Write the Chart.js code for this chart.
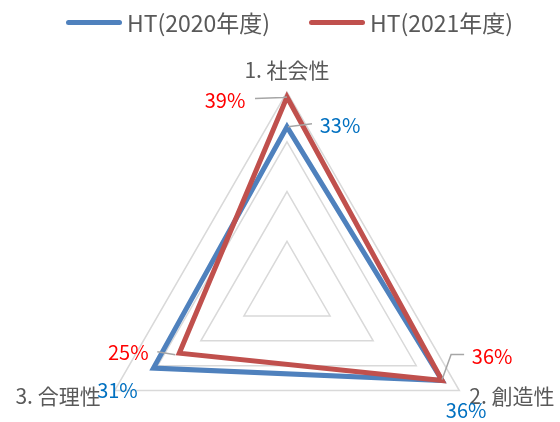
<!DOCTYPE html>
<html><head><meta charset="utf-8">
<script src="https://cdn.jsdelivr.net/npm/chart.js"></script>
<style>html,body{margin:0;padding:0;background:#fff;overflow:hidden}#wrap{width:560px;height:422px;position:relative}</style>
</head><body><div id="wrap"><canvas id="c" width="560" height="422"></canvas></div>
<script>
const categories = ['1. 社会性', '2. 創造性', '3. 合理性'];
const seriesNames = ['HT(2020年度)', 'HT(2021年度)'];
const values2020 = [33, 36, 31];
const values2021 = [39, 36, 25];
const tickValues = [0, 10, 20, 30, 40];

const FONT = '"Noto Sans CJK JP", "Noto Sans", sans-serif';
const seriesColors = ['#4f81bd', '#c0504d'];
const labelColors = ['#0070c0', '#ff0000'];

// label offsets and leader-line bends relative to each data point (style only)
const labelStyle = [
  [ {dx: 53, dy: -1, leader: [[25, -3], [1, 0]]},
    {dx: 24, dy: 30, leader: null},
    {dx: -36, dy: 22, leader: null} ],
  [ {dx: -62, dy: 3, leader: [[-32, 1.5], [-4, 0.5], [0, 0]]},
    {dx: 50, dy: -24, leader: [[22, -26], [9, -26], [0, -1]]},
    {dx: -51, dy: -1, leader: [[-22, -1.5], [-4, 1.5]]} ]
];

const overlay = {
  id: 'overlay',
  afterDatasetsDraw(chart) {
    const ctx = chart.ctx;
    const scale = chart.scales.r;
    ctx.save();
    ctx.font = '21px ' + FONT;
    ctx.fillStyle = '#595959';
    ctx.textBaseline = 'middle';
    const outer = categories.map((c, i) => scale.getPointPosition(i, scale.drawingArea));
    ctx.textAlign = 'center';
    ctx.fillText(categories[0], outer[0].x, outer[0].y - 22);
    ctx.textAlign = 'left';
    ctx.fillText(categories[1], outer[1].x + 10, outer[1].y + 6);
    ctx.textAlign = 'right';
    ctx.fillText(categories[2], outer[2].x - 14, outer[2].y + 6);
    ctx.font = '20px ' + FONT;
    chart.data.datasets.forEach((ds, di) => {
      const meta = chart.getDatasetMeta(di);
      meta.data.forEach((pt, i) => {
        const st = labelStyle[di][i];
        if (st.leader) {
          ctx.strokeStyle = '#a6a6a6';
          ctx.lineWidth = 1.5;
          ctx.beginPath();
          st.leader.forEach((p, k) => {
            if (k === 0) ctx.moveTo(pt.x + p[0], pt.y + p[1]);
            else ctx.lineTo(pt.x + p[0], pt.y + p[1]);
          });
          ctx.stroke();
        }
        ctx.fillStyle = labelColors[di];
        ctx.textAlign = 'center';
        ctx.fillText(ds.data[i] + '%', pt.x + st.dx, pt.y + st.dy);
      });
    });
    ctx.restore();
  },
  afterDraw(chart) {
    const ctx = chart.ctx;
    ctx.save();
    ctx.font = '23px ' + FONT;
    ctx.textBaseline = 'middle';
    ctx.textAlign = 'left';
    const starts = [66, 309];
    chart.data.datasets.forEach((ds, di) => {
      const x = starts[di], y = 22.5;
      ctx.strokeStyle = seriesColors[di];
      ctx.lineWidth = 5;
      ctx.lineCap = 'round';
      ctx.beginPath();
      ctx.moveTo(x + 2.5, y);
      ctx.lineTo(x + 53.5, y);
      ctx.stroke();
      ctx.fillStyle = '#595959';
      ctx.fillText(ds.label, x + 61, y + 1);
    });
    ctx.restore();
  }
};

new Chart(document.getElementById('c'), {
  type: 'radar',
  data: {
    labels: categories,
    datasets: [
      {label: seriesNames[0], data: values2020, borderColor: seriesColors[0], backgroundColor: seriesColors[0], order: 1},
      {label: seriesNames[1], data: values2021, borderColor: seriesColors[1], backgroundColor: seriesColors[1], order: 0}
    ]
  },
  options: {
    responsive: false,
    animation: false,
    devicePixelRatio: 1,
    elements: {
      line: {borderWidth: 5, tension: 0, fill: false, borderJoinStyle: 'miter'},
      point: {radius: 0, hoverRadius: 0}
    },
    plugins: {legend: {display: false}, tooltip: {enabled: false}},
    scales: {
      r: {
        min: tickValues[0],
        max: tickValues[tickValues.length - 1],
        ticks: {display: false, stepSize: tickValues[1] - tickValues[0]},
        grid: {color: '#d9d9d9', lineWidth: 1.5},
        angleLines: {display: false},
        pointLabels: {display: false},
        afterFit(scale) {
          scale.xCenter = 287;
          scale.yCenter = 291;
          scale.drawingArea = 199;
        }
      }
    }
  },
  plugins: [overlay]
});
</script></body></html>
